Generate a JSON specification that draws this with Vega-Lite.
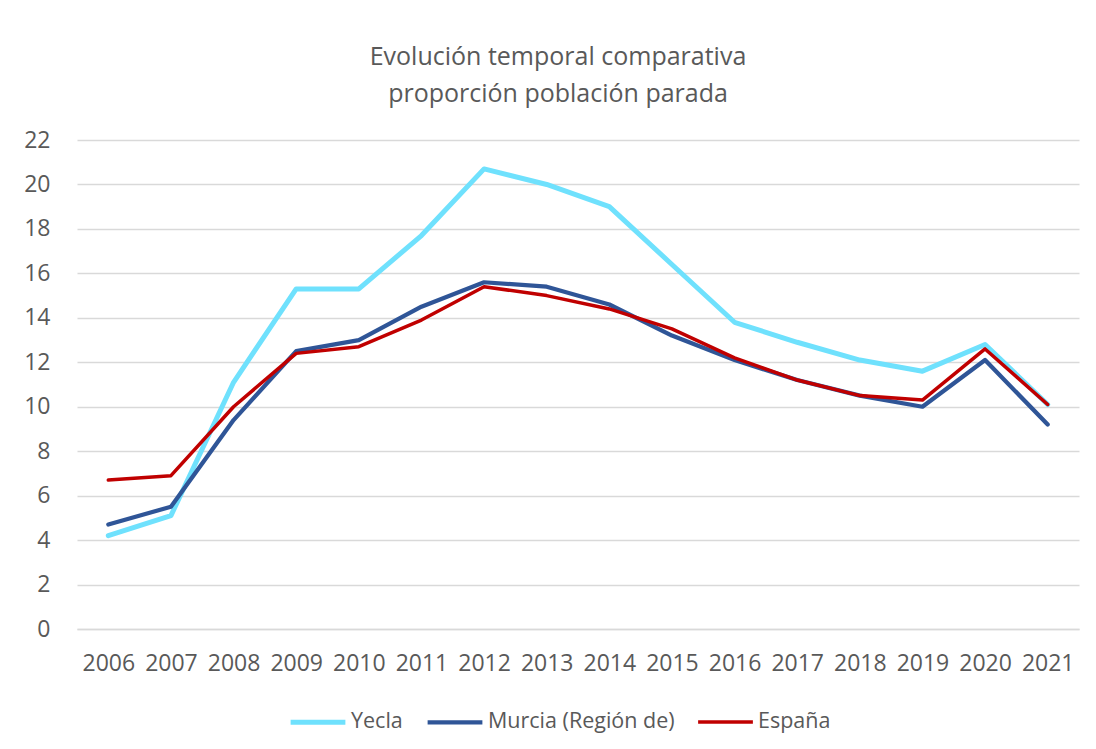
{
  "$schema": "https://vega.github.io/schema/vega-lite/v6.json",
  "autosize": "none",
  "width": 1002,
  "height": 489,
  "padding": {"left": 77, "top": 140, "right": 17, "bottom": 120},
  "background": "white",
  "title": {
    "text": ["Evolución temporal comparativa", "proporción población parada"],
    "anchor": "middle",
    "frame": "group",
    "offset": 22,
    "dx": -20,
    "fontSize": 25,
    "font": "Open Sans",
    "fontWeight": "normal",
    "color": "#595959",
    "lineHeight": 37
  },
  "data": {
    "values": [
      {"year": "2006", "serie": "Yecla", "value": 4.2},
      {"year": "2007", "serie": "Yecla", "value": 5.1},
      {"year": "2008", "serie": "Yecla", "value": 11.1},
      {"year": "2009", "serie": "Yecla", "value": 15.3},
      {"year": "2010", "serie": "Yecla", "value": 15.3},
      {"year": "2011", "serie": "Yecla", "value": 17.7},
      {"year": "2012", "serie": "Yecla", "value": 20.7},
      {"year": "2013", "serie": "Yecla", "value": 20.0},
      {"year": "2014", "serie": "Yecla", "value": 19.0},
      {"year": "2015", "serie": "Yecla", "value": 16.4},
      {"year": "2016", "serie": "Yecla", "value": 13.8},
      {"year": "2017", "serie": "Yecla", "value": 12.9},
      {"year": "2018", "serie": "Yecla", "value": 12.1},
      {"year": "2019", "serie": "Yecla", "value": 11.6},
      {"year": "2020", "serie": "Yecla", "value": 12.8},
      {"year": "2021", "serie": "Yecla", "value": 10.1},
      {"year": "2006", "serie": "Murcia (Región de)", "value": 4.7},
      {"year": "2007", "serie": "Murcia (Región de)", "value": 5.5},
      {"year": "2008", "serie": "Murcia (Región de)", "value": 9.4},
      {"year": "2009", "serie": "Murcia (Región de)", "value": 12.5},
      {"year": "2010", "serie": "Murcia (Región de)", "value": 13.0},
      {"year": "2011", "serie": "Murcia (Región de)", "value": 14.5},
      {"year": "2012", "serie": "Murcia (Región de)", "value": 15.6},
      {"year": "2013", "serie": "Murcia (Región de)", "value": 15.4},
      {"year": "2014", "serie": "Murcia (Región de)", "value": 14.6},
      {"year": "2015", "serie": "Murcia (Región de)", "value": 13.2},
      {"year": "2016", "serie": "Murcia (Región de)", "value": 12.1},
      {"year": "2017", "serie": "Murcia (Región de)", "value": 11.2},
      {"year": "2018", "serie": "Murcia (Región de)", "value": 10.5},
      {"year": "2019", "serie": "Murcia (Región de)", "value": 10.0},
      {"year": "2020", "serie": "Murcia (Región de)", "value": 12.1},
      {"year": "2021", "serie": "Murcia (Región de)", "value": 9.2},
      {"year": "2006", "serie": "España", "value": 6.7},
      {"year": "2007", "serie": "España", "value": 6.9},
      {"year": "2008", "serie": "España", "value": 10.0},
      {"year": "2009", "serie": "España", "value": 12.4},
      {"year": "2010", "serie": "España", "value": 12.7},
      {"year": "2011", "serie": "España", "value": 13.9},
      {"year": "2012", "serie": "España", "value": 15.4},
      {"year": "2013", "serie": "España", "value": 15.0},
      {"year": "2014", "serie": "España", "value": 14.4},
      {"year": "2015", "serie": "España", "value": 13.5},
      {"year": "2016", "serie": "España", "value": 12.2},
      {"year": "2017", "serie": "España", "value": 11.2},
      {"year": "2018", "serie": "España", "value": 10.5},
      {"year": "2019", "serie": "España", "value": 10.3},
      {"year": "2020", "serie": "España", "value": 12.6},
      {"year": "2021", "serie": "España", "value": 10.1}
    ]
  },
  "mark": {"type": "line", "strokeCap": "round", "strokeJoin": "round"},
  "encoding": {
    "x": {
      "field": "year",
      "type": "ordinal",
      "scale": {"type": "point", "padding": 0.5},
      "axis": {
        "title": null,
        "labelAngle": 0,
        "ticks": false,
        "domain": true,
        "domainColor": "#D9D9D9",
        "domainWidth": 1.5,
        "labelPadding": 23,
        "labelFontSize": 23,
        "labelFont": "Open Sans",
        "labelColor": "#595959"
      }
    },
    "y": {
      "field": "value",
      "type": "quantitative",
      "scale": {"domain": [0, 22], "nice": false},
      "axis": {
        "title": null,
        "values": [0, 2, 4, 6, 8, 10, 12, 14, 16, 18, 20, 22],
        "ticks": false,
        "domain": false,
        "grid": true,
        "gridColor": "#D9D9D9",
        "gridWidth": 1.5,
        "labelPadding": 27,
        "labelFontSize": 23,
        "labelFont": "Open Sans",
        "labelColor": "#595959"
      }
    },
    "color": {
      "field": "serie",
      "type": "nominal",
      "sort": ["Yecla", "Murcia (Región de)", "España"],
      "scale": {
        "domain": ["Yecla", "Murcia (Región de)", "España"],
        "range": ["#6FE1FD", "#2F5597", "#C00000"]
      },
      "legend": {
        "title": null,
        "orient": "none",
        "legendX": 211,
        "legendY": 552,
        "direction": "horizontal",
        "symbolType": "stroke",
        "symbolSize": 3000,
        "symbolStrokeWidth": 4,
        "labelFontSize": 21.5,
        "labelFont": "Open Sans",
        "labelColor": "#595959",
        "labelOffset": 3,
        "labelLimit": 0,
        "columnPadding": 16
      }
    },
    "strokeWidth": {
      "field": "serie",
      "type": "nominal",
      "scale": {
        "domain": ["Yecla", "Murcia (Región de)", "España"],
        "range": [5, 3.5, 3.5]
      },
      "legend": null
    }
  },
  "config": {
    "view": {"stroke": null}
  }
}
